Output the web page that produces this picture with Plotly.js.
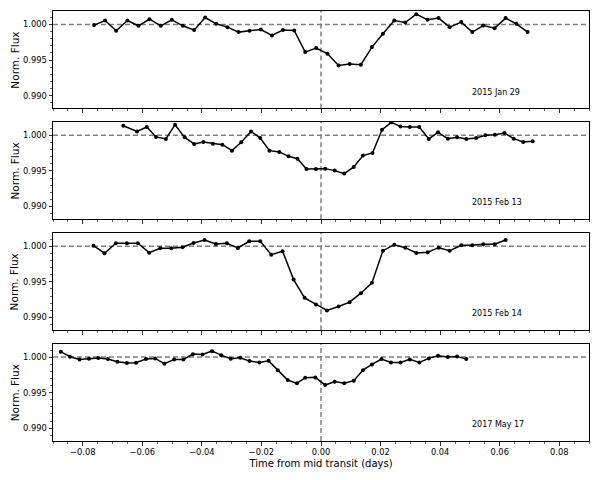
<!DOCTYPE html>
<html>
<head>
<meta charset="utf-8">
<script src="https://cdn.plot.ly/plotly-3.0.1.min.js"></script>
<style>
  body { margin: 0; background: #fff; }
  #chart { width: 600px; height: 480px; }
</style>
</head>
<body>
<div id="chart"></div>
<script>
// Light curves, one per night (time from mid transit in days, normalised flux)
const labels = ['2015 Jan 29', '2015 Feb 13', '2015 Feb 14', '2017 May 17'];

const jan29Time = [-0.0762, -0.0725, -0.0688, -0.0650, -0.0613, -0.0576, -0.0538, -0.0501, -0.0464, -0.0426,
  -0.0389, -0.0352, -0.0314, -0.0277, -0.0240, -0.0202, -0.0165, -0.0128, -0.0090, -0.0053,
  -0.0016, 0.0022, 0.0059, 0.0096, 0.0134, 0.0171, 0.0208, 0.0246, 0.0283, 0.0320,
  0.0358, 0.0395, 0.0432, 0.0471, 0.0508, 0.0545, 0.0583, 0.0620, 0.0656, 0.0694];
const jan29Flux = [0.99992, 1.00056, 0.99912, 1.00056, 0.99982, 1.00075, 0.99982, 1.00066, 0.99982, 0.99921,
  1.00098, 1.00010, 0.99963, 0.99893, 0.99912, 0.99930, 0.99846, 0.99921, 0.99916, 0.99612,
  0.99668, 0.99588, 0.99424, 0.99444, 0.99434, 0.99682, 0.99869, 1.00056, 1.00028, 1.00146,
  1.00066, 1.00090, 0.99963, 1.00034, 0.99893, 0.99986, 0.99949, 1.00090, 1.00010, 0.99893];

const feb13Time = [-0.0664, -0.0618, -0.0585, -0.0554, -0.0521, -0.0490, -0.0458, -0.0426, -0.0395, -0.0363,
  -0.0331, -0.0299, -0.0268, -0.0235, -0.0204, -0.0173, -0.0140, -0.0109, -0.0079, -0.0049,
  -0.0017, 0.0014, 0.0046, 0.0078, 0.0110, 0.0141, 0.0173, 0.0205, 0.0236, 0.0267,
  0.0298, 0.0330, 0.0362, 0.0393, 0.0426, 0.0457, 0.0488, 0.0521, 0.0552, 0.0584,
  0.0616, 0.0647, 0.0679, 0.0711];
const feb13Flux = [1.00136, 1.00056, 1.00118, 0.99978, 0.99949, 1.00150, 0.99972, 0.99879, 0.99907, 0.99883,
  0.99869, 0.99785, 0.99902, 1.00056, 0.99963, 0.99785, 0.99767, 0.99705, 0.99671, 0.99528,
  0.99528, 0.99532, 0.99504, 0.99462, 0.99556, 0.99715, 0.99753, 1.00080, 1.00183, 1.00126,
  1.00118, 1.00118, 0.99949, 1.00042, 0.99954, 0.99972, 0.99949, 0.99963, 1.00000, 1.00010,
  1.00034, 0.99954, 0.99907, 0.99916];

const feb14Time = [-0.0764, -0.0727, -0.0689, -0.0652, -0.0615, -0.0577, -0.0540, -0.0503, -0.0465, -0.0428,
  -0.0391, -0.0353, -0.0316, -0.0279, -0.0241, -0.0204, -0.0167, -0.0129, -0.0092, -0.0055,
  -0.0017, 0.0020, 0.0059, 0.0096, 0.0134, 0.0171, 0.0208, 0.0246, 0.0283, 0.0320,
  0.0358, 0.0395, 0.0432, 0.0471, 0.0508, 0.0545, 0.0583, 0.0620];
const feb14Flux = [1.00008, 0.99902, 1.00042, 1.00042, 1.00042, 0.99910, 0.99972, 0.99972, 0.99986, 1.00046,
  1.00088, 1.00032, 1.00042, 0.99976, 1.00070, 1.00070, 0.99882, 0.99930, 0.99531, 0.99274,
  0.99180, 0.99096, 0.99152, 0.99213, 0.99340, 0.99485, 0.99938, 1.00022, 0.99980, 0.99906,
  0.99916, 0.99980, 0.99938, 1.00014, 1.00014, 1.00028, 1.00028, 1.00088];

const may17Time = [-0.0874, -0.0843, -0.0811, -0.0779, -0.0748, -0.0716, -0.0684, -0.0652, -0.0621, -0.0588,
  -0.0557, -0.0526, -0.0493, -0.0462, -0.0430, -0.0398, -0.0366, -0.0335, -0.0303, -0.0271,
  -0.0240, -0.0207, -0.0176, -0.0145, -0.0112, -0.0081, -0.0053, -0.0019, 0.0014, 0.0046,
  0.0078, 0.0110, 0.0141, 0.0171, 0.0203, 0.0235, 0.0267, 0.0298, 0.0330, 0.0362,
  0.0393, 0.0426, 0.0457, 0.0488];
const may17Flux = [1.00076, 1.00006, 0.99968, 0.99978, 0.99986, 0.99972, 0.99935, 0.99916, 0.99921, 0.99972,
  0.99982, 0.99907, 0.99968, 0.99968, 1.00042, 1.00038, 1.00084, 1.00028, 0.99978, 0.99992,
  0.99944, 0.99926, 0.99949, 0.99817, 0.99677, 0.99631, 0.99711, 0.99715, 0.99607, 0.99655,
  0.99631, 0.99669, 0.99817, 0.99897, 0.99972, 0.99926, 0.99926, 0.99968, 0.99926, 0.99982,
  1.00020, 1.00000, 1.00010, 0.99972];

const times = [jan29Time, feb13Time, feb14Time, may17Time];
const fluxes = [jan29Flux, feb13Flux, feb14Flux, may17Flux];

// panel domains, top to bottom
const domains = [[0.7735, 1], [0.5157, 0.7422], [0.2578, 0.4843], [0, 0.2265]];

const font = { family: 'DejaVu Sans, sans-serif', color: '#000' };

const traces = times.map((t, i) => ({
  x: t,
  y: fluxes[i],
  xaxis: i === 0 ? 'x' : 'x' + (i + 1),
  yaxis: i === 0 ? 'y' : 'y' + (i + 1),
  type: 'scatter',
  mode: 'lines+markers',
  line: { color: '#000', width: 1.5 },
  marker: { color: '#000', size: 4 },
  hoverinfo: 'x+y',
  showlegend: false
}));

const layout = {
  width: 600,
  height: 480,
  margin: { l: 53, r: 11, t: 11, b: 38.5 },
  paper_bgcolor: '#fff',
  plot_bgcolor: '#fff',
  font: font,
  shapes: [],
  annotations: []
};

labels.forEach((lab, i) => {
  const n = i === 0 ? '' : String(i + 1);
  const last = i === labels.length - 1;
  layout['xaxis' + n] = {
    anchor: 'y' + n,
    matches: i === 0 ? undefined : 'x',
    range: [-0.09, 0.09],
    tick0: 0,
    dtick: 0.02,
    tickformat: '.2f',
    ticks: 'outside',
    ticklen: 3.5,
    tickwidth: 0.8,
    tickcolor: '#000',
    showticklabels: last,
    tickfont: { size: 8.3 },
    minor: { dtick: 0.005, ticks: 'outside', ticklen: 2, tickwidth: 0.6, tickcolor: '#000' },
    showline: true,
    mirror: true,
    linecolor: '#000',
    linewidth: 1,
    showgrid: false,
    zeroline: false,
    title: last ? { text: 'Time from mid transit (days)', font: { size: 10 }, standoff: 3 } : undefined
  };
  layout['yaxis' + n] = {
    anchor: 'x' + n,
    domain: domains[i],
    range: [0.9882, 1.0019],
    tick0: 1,
    dtick: 0.005,
    tickformat: '.3f',
    ticks: 'outside',
    ticklen: 3.5,
    tickwidth: 0.8,
    tickcolor: '#000',
    tickfont: { size: 8.3 },
    minor: { dtick: 0.001, ticks: 'outside', ticklen: 2, tickwidth: 0.6, tickcolor: '#000' },
    showline: true,
    mirror: true,
    linecolor: '#000',
    linewidth: 1,
    showgrid: false,
    zeroline: false
  };

  // y label placed by hand so it sits where the original has it
  layout.annotations.push({
    text: 'Norm. Flux', xref: 'paper', yref: 'paper',
    x: -0.071, y: (domains[i][0] + domains[i][1]) / 2,
    xanchor: 'center', yanchor: 'middle', textangle: -90,
    showarrow: false, font: { size: 10.5 }
  });

  // reference lines: flux = 1 and mid transit
  layout.shapes.push({
    type: 'line', xref: 'x' + n + ' domain', yref: 'y' + n,
    x0: 0, x1: 1, y0: 1, y1: 1,
    line: { color: '#7f7f7f', width: 1.5, dash: '5px,3px' }, layer: 'below'
  });
  layout.shapes.push({
    type: 'line', xref: 'x' + n, yref: 'y' + n + ' domain',
    x0: 0, x1: 0, y0: 0, y1: 1,
    line: { color: '#7f7f7f', width: 1.5, dash: '5px,3px' }, layer: 'below'
  });

  layout.annotations.push({
    text: lab, xref: 'x' + n, yref: 'y' + n,
    x: 0.05, y: 0.9905, xanchor: 'left', yanchor: 'middle',
    showarrow: false, font: { size: 8 }
  });
});

Plotly.newPlot('chart', traces, layout, { displayModeBar: false, staticPlot: true });
</script>
</body>
</html>
